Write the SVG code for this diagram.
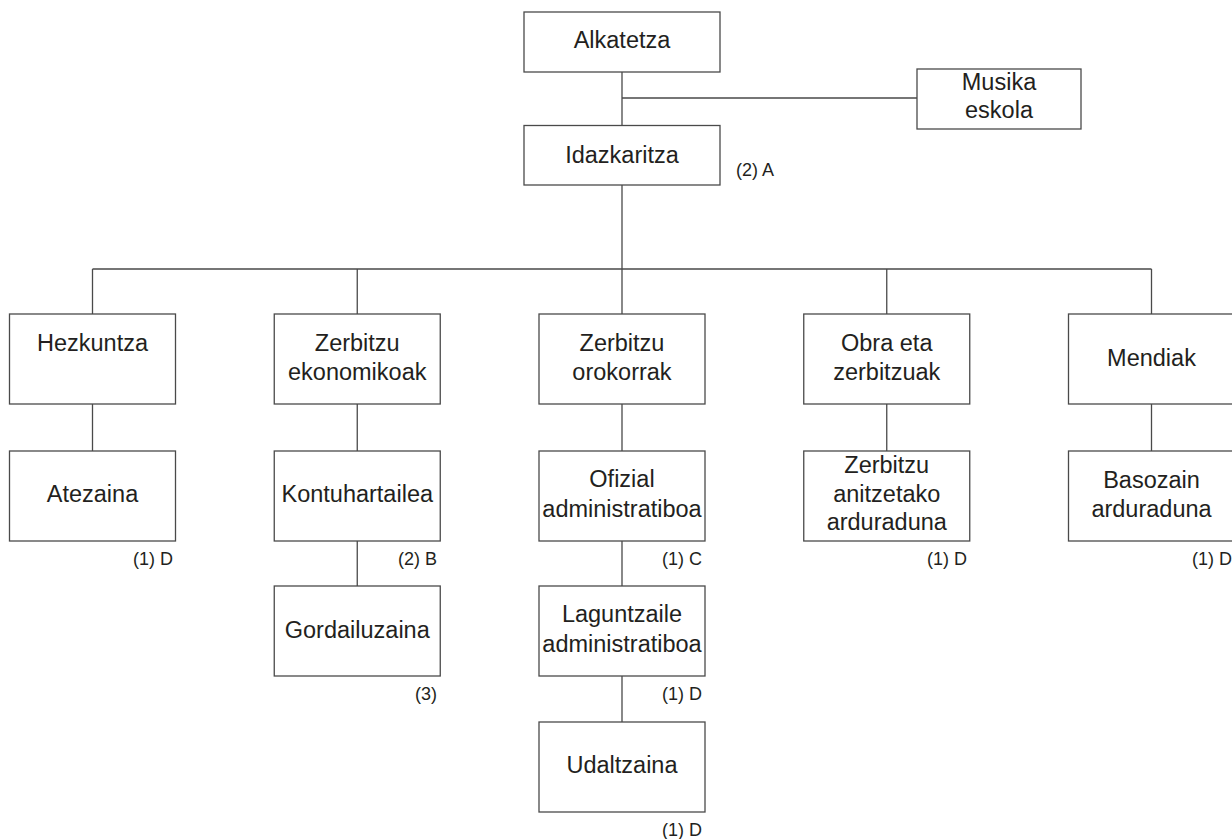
<svg xmlns="http://www.w3.org/2000/svg" width="1232" height="839" viewBox="0 0 1232 839">
<style>
.box{fill:#fff;stroke:#4a4a4a;stroke-width:1.3}
.t{font-family:"Liberation Sans",Arial,sans-serif;font-size:23.5px;fill:#231f20;text-anchor:middle}
.l{font-family:"Liberation Sans",Arial,sans-serif;font-size:18px;fill:#231f20;text-anchor:end}
.c{stroke:#4a4a4a;stroke-width:1.3;fill:none}
</style>
<rect width="1232" height="839" fill="#fff"/>
<g id="connectors" class="c">
<path d="M622 72V125.5M622 98H917M622 185V269M92.5 269H1151.5"/>
<path d="M92.5 269V314M357.25 269V314M622 269V314M886.75 269V314M1151.5 269V314"/>
<path d="M92.5 404V451M357.25 404V451M622 404V451M886.75 404V451M1151.5 404V451"/>
<path d="M357.25 541V586M622 541V586M622 676V722"/>
</g>
<g id="alkatetza"><rect class="box" x="524" y="12" width="196" height="60"/><text class="t" x="622" y="48">Alkatetza</text></g>
<g id="musika"><rect class="box" x="917" y="69" width="164" height="60"/><text class="t" x="999" y="90">Musika</text><text class="t" x="999" y="118">eskola</text></g>
<g id="idazkaritza"><rect class="box" x="524" y="125.5" width="196" height="59.5"/><text class="t" x="622" y="162.5">Idazkaritza</text><text class="l" x="774" y="176">(2) A</text></g>
<g id="hezkuntza"><rect class="box" x="9.5" y="314" width="166" height="90"/><text class="t" x="92.5" y="351">Hezkuntza</text></g>
<g id="zerbitzu-ekonomikoak"><rect class="box" x="274.25" y="314" width="166" height="90"/><text class="t" x="357.25" y="351">Zerbitzu</text><text class="t" x="357.25" y="380">ekonomikoak</text></g>
<g id="zerbitzu-orokorrak"><rect class="box" x="539" y="314" width="166" height="90"/><text class="t" x="622" y="351">Zerbitzu</text><text class="t" x="622" y="380">orokorrak</text></g>
<g id="obra"><rect class="box" x="803.75" y="314" width="166" height="90"/><text class="t" x="886.75" y="351">Obra eta</text><text class="t" x="886.75" y="380">zerbitzuak</text></g>
<g id="mendiak"><rect class="box" x="1068.5" y="314" width="166" height="90"/><text class="t" x="1151.5" y="366">Mendiak</text></g>
<g id="atezaina"><rect class="box" x="9.5" y="451" width="166" height="90"/><text class="t" x="92.5" y="502">Atezaina</text><text class="l" x="173" y="565">(1) D</text></g>
<g id="kontuhartailea"><rect class="box" x="274.25" y="451" width="166" height="90"/><text class="t" x="357.25" y="502">Kontuhartailea</text><text class="l" x="437" y="565">(2) B</text></g>
<g id="ofizial"><rect class="box" x="539" y="451" width="166" height="90"/><text class="t" x="622" y="486.5">Ofizial</text><text class="t" x="622" y="516.5">administratiboa</text><text class="l" x="702" y="565">(1) C</text></g>
<g id="zerbitzu-anitzetako"><rect class="box" x="803.75" y="451" width="166" height="90"/><text class="t" x="886.75" y="473">Zerbitzu</text><text class="t" x="886.75" y="502">anitzetako</text><text class="t" x="886.75" y="530">arduraduna</text><text class="l" x="967" y="565">(1) D</text></g>
<g id="basozain"><rect class="box" x="1068.5" y="451" width="166" height="90"/><text class="t" x="1151.5" y="488">Basozain</text><text class="t" x="1151.5" y="517">arduraduna</text><text class="l" x="1232" y="565">(1) D</text></g>
<g id="gordailuzaina"><rect class="box" x="274.25" y="586" width="166" height="90"/><text class="t" x="357.25" y="638">Gordailuzaina</text><text class="l" x="437" y="700">(3)</text></g>
<g id="laguntzaile"><rect class="box" x="539" y="586" width="166" height="90"/><text class="t" x="622" y="622">Laguntzaile</text><text class="t" x="622" y="652">administratiboa</text><text class="l" x="702" y="700">(1) D</text></g>
<g id="udaltzaina"><rect class="box" x="539" y="722" width="166" height="90"/><text class="t" x="622" y="773">Udaltzaina</text><text class="l" x="702" y="836">(1) D</text></g>
</svg>
